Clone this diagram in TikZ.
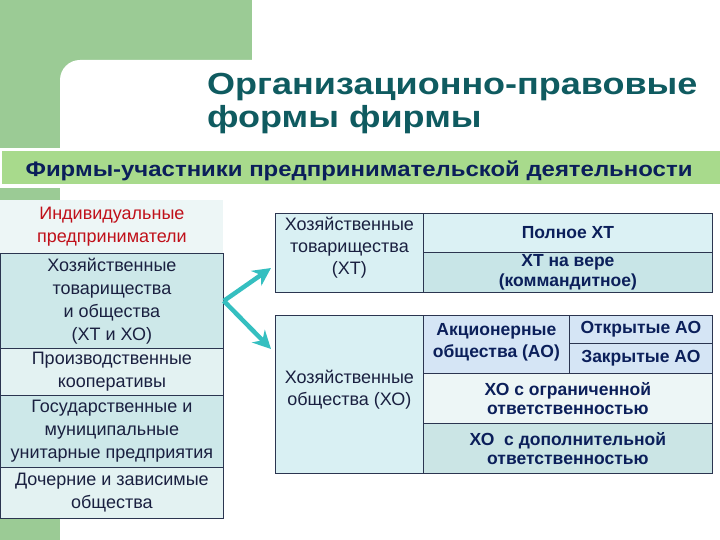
\documentclass[tikz,border=0pt]{standalone}
\usepackage{fontspec}
\setmainfont{Liberation Sans}
\usetikzlibrary{arrows.meta}
\definecolor{topgreen}{HTML}{9BCB95}
\definecolor{bargreen}{HTML}{A8DA8C}
\definecolor{cellLight}{HTML}{EDF6F6}
\definecolor{cellTeal}{HTML}{CDE8E9}
\definecolor{cellPale}{HTML}{E3F2F2}
\definecolor{tblLeft}{HTML}{D9F0F3}
\definecolor{fullXT}{HTML}{DBF1F4}
\definecolor{veraXT}{HTML}{C8E5E7}
\definecolor{aoBlue}{HTML}{D5E5F5}
\definecolor{ooo}{HTML}{EDF6F6}
\definecolor{odo}{HTML}{CBE5E5}
\definecolor{arrowc}{HTML}{35BFC0}
\definecolor{titlec}{HTML}{0F5B60}
\definecolor{barc}{HTML}{0B1F5A}
\definecolor{redc}{HTML}{C0101A}
\definecolor{bodyc}{HTML}{1A2040}
\definecolor{linec}{HTML}{2B3550}
\tikzset{
  cell/.style={draw=linec, line width=0.8pt, inner sep=0pt, anchor=north west,
    align=center, text=bodyc, font=\fontsize{18}{23}\selectfont},
  bcell/.style={cell, font=\bfseries\fontsize{17.5}{19.5}\selectfont, text=barc},
  txt/.style={inner sep=0pt, align=center, text=bodyc, font=\fontsize{18}{22}\selectfont},
  conn/.style={line width=4.5pt, arrowc, -{Stealth[length=18pt,width=18pt]}}
}
\begin{document}
\begin{tikzpicture}[x=1pt,y=-1pt]
\useasboundingbox (0,0) rectangle (720,540);
% background
\fill[topgreen] (0,0) rectangle (252,148);
\fill[white, rounded corners=20pt] (60,60) rectangle (760,200);
\fill[topgreen] (0,188) rectangle (60,540);
\fill[white] (0,148) rectangle (720,188);
\fill[bargreen] (2,151) rectangle (720,184);
% title
\node[anchor=base west, inner sep=0pt, text=titlec, font=\bfseries\fontsize{30.5}{33}\selectfont] (t1) at (207,95) {\scalebox{1.18}[1]{Организационно-правовые}};
\node[anchor=base west, inner sep=0pt, text=titlec, font=\bfseries\fontsize{30.5}{33}\selectfont] (t2) at (207,128) {\scalebox{1.18}[1]{формы фирмы}};
\node[anchor=base, inner sep=0pt, text=barc, font=\bfseries\fontsize{21}{24}\selectfont] (bar) at (359,177) {\scalebox{1.14}[1]{Фирмы-участники предпринимательской деятельности}};
% left column
\node[cell, draw=none, fill=cellLight, minimum width=223pt, minimum height=53pt, text=redc] (c1) at (0,200) {Индивидуальные\\предприниматели};
\node[cell, fill=cellTeal, minimum width=223pt, minimum height=95pt] (c2) at (0,253) {Хозяйственные\\товарищества\\и общества\\(ХТ и ХО)};
\node[cell, fill=cellPale, minimum width=223pt, minimum height=47pt] (c3) at (0,348) {Производственные\\кооперативы};
\node[cell, fill=cellTeal, minimum width=223pt, minimum height=72pt] (c4) at (0,395) {Государственные и\\муниципальные\\унитарные предприятия};
\node[cell, fill=cellPale, minimum width=223pt, minimum height=51pt] (c5) at (0,467) {Дочерние и зависимые\\общества};
% top right table
\node[cell, fill=tblLeft, minimum width=148pt, minimum height=79pt] (xt) at (275,213) {};
\node[txt] (xtt) at ([yshift=5pt]xt.center) {Хозяйственные\\товарищества\\(ХТ)};
\node[bcell, fill=fullXT, minimum width=289pt, minimum height=39pt] (full) at (423,213) {Полное ХТ};
\node[bcell, fill=veraXT, minimum width=289pt, minimum height=40pt] (vera) at (423,252) {ХТ на вере\\(коммандитное)};
% bottom right table
\node[cell, fill=tblLeft, minimum width=148pt, minimum height=158pt] (xo) at (275,315) {};
\node[txt] (xot) at ([yshift=5pt]xo.center) {Хозяйственные\\общества (ХО)};
\node[bcell, fill=aoBlue, minimum width=146pt, minimum height=58pt] (ao) at (423,315) {};
\node[txt, font=\bfseries\fontsize{17.5}{22}\selectfont, text=barc] (aot) at ([yshift=2pt]ao.center) {Акционерные\\общества (АО)};
\node[bcell, fill=aoBlue, minimum width=143pt, minimum height=28pt] (oao) at (569,315) {Открытые АО};
\node[bcell, fill=aoBlue, minimum width=143pt, minimum height=30pt] (zao) at (569,343) {Закрытые АО};
\node[bcell, fill=ooo, minimum width=289pt, minimum height=50pt] (ooo) at (423,373) {ХО с ограниченной\\ответственностью};
\node[bcell, fill=odo, minimum width=289pt, minimum height=50pt] (odo) at (423,423) {ХО\ \ с дополнительной\\ответственностью};
% arrows
\coordinate (up) at (271,268);
\coordinate (dn) at (271,349);
\draw[conn] (c2.east) -- (up);
\draw[conn] (c2.east) -- (dn);
\end{tikzpicture}
\end{document}
